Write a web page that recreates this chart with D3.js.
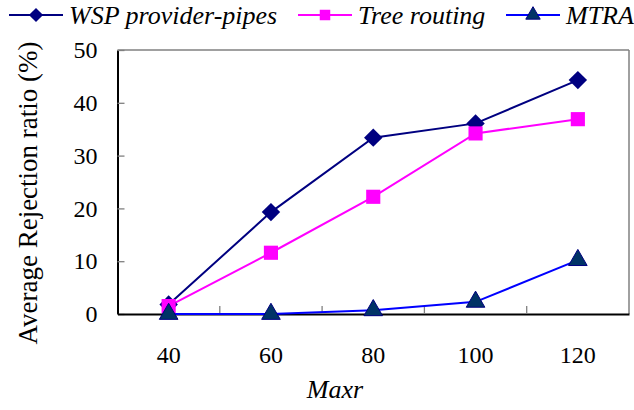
<!DOCTYPE html>
<html><head><meta charset="utf-8">
<script src="https://cdn.jsdelivr.net/npm/d3@7"></script>
<style>body{margin:0;background:#fff}svg{display:block}text{font-family:'Liberation Serif','Times New Roman',serif}</style>
</head><body>
<svg id="c" width="634" height="410"></svg>
<script>
const categories = ["40","60","80","100","120"];
const wspValues = [1.8, 19.3, 33.4, 36.1, 44.3];
const treeValues = [1.5, 11.6, 22.2, 34.2, 36.9];
const mtraValues = [0, 0, 0.7, 2.3, 10.2];
const yTicks = [0, 10, 20, 30, 40, 50];
const seriesNames = ["WSP provider-pipes", "Tree routing", "MTRA"];

const svg = d3.select("#c");
const L = 117.5, R = 629, T = 50, B = 314;
const x = d3.scaleBand().domain(categories).range([L, R]);
const y = d3.scaleLinear().domain([0, 50]).range([B, T]);

// frame (top/right grey)
svg.append("line").attr("x1",L).attr("x2",R).attr("y1",T).attr("y2",T).attr("stroke","#808080").attr("stroke-width",1.5);
svg.append("line").attr("x1",R).attr("x2",R).attr("y1",T).attr("y2",B).attr("stroke","#808080").attr("stroke-width",1.5);

// y axis
const ya = svg.append("g").attr("transform",`translate(${L},0)`)
  .call(d3.axisLeft(y).tickValues(yTicks).tickSize(-7).tickPadding(20).tickSizeOuter(0));
ya.select(".domain").attr("stroke","#000").attr("stroke-width",2);
ya.selectAll(".tick line").attr("stroke","#808080").attr("stroke-width",1.3);
ya.selectAll(".tick text").style("font-family","'Liberation Serif'").style("font-size","24px").attr("fill","#000");

// x axis
const xa = svg.append("g").attr("transform",`translate(0,${B})`)
  .call(d3.axisBottom(x).tickSize(0).tickPadding(32).tickSizeOuter(0));
xa.select(".domain").attr("stroke","#000").attr("stroke-width",2);
xa.selectAll(".tick text").style("font-family","'Liberation Serif'").style("font-size","24px").attr("fill","#000");
// category boundary ticks (inside)
svg.append("g").selectAll("line").data(categories.slice(1)).join("line")
  .attr("x1",d=>x(d)).attr("x2",d=>x(d)).attr("y1",B).attr("y2",B-8)
  .attr("stroke","#808080").attr("stroke-width",1.3);

// axis titles
svg.append("text").attr("x",335).attr("y",398).attr("text-anchor","middle")
  .style("font-family","'Liberation Serif'").style("font-style","italic").style("font-size","26px").text("Maxr");
svg.append("text").attr("transform","translate(37,193) rotate(-90)").attr("text-anchor","middle")
  .style("font-family","'Liberation Serif'").style("font-size","27px").text("Average Rejection ratio (%)");

const cx = d => x(d) + x.bandwidth()/2;
const line = d3.line().x((d,i)=>cx(categories[i])).y(d=>y(d));

const series = [
  {name:seriesNames[0], vals:wspValues, stroke:"#000080", fill:"#000080", shape:d3.symbolSquare, size:170, lsize:100, rot:45, outline:"none"},
  {name:seriesNames[1], vals:treeValues, stroke:"#FF00FF", fill:"#FF00FF", shape:d3.symbolSquare, size:200, lsize:110, rot:0, outline:"none"},
  {name:seriesNames[2], vals:mtraValues, stroke:"#0000FF", fill:"#003366", shape:d3.symbolTriangle, size:150, lsize:90, rot:0, outline:"#000080"}
];

series.forEach(s=>{
  svg.append("path").datum(s.vals).attr("d",line).attr("fill","none").attr("stroke",s.stroke).attr("stroke-width",2);
});
series.forEach(s=>{
  svg.append("g").selectAll("path").data(s.vals).join("path")
    .attr("d",d3.symbol().type(s.shape).size(s.size))
    .attr("transform",(d,i)=>`translate(${cx(categories[i])},${y(d)}) rotate(${s.rot})`)
    .attr("fill",s.fill).attr("stroke",s.outline).attr("stroke-width",1);
});

// legend
const legX = [9, 298, 506];
series.forEach((s,i)=>{
  const g = svg.append("g").attr("transform",`translate(${legX[i]},15)`);
  g.append("line").attr("x1",0).attr("x2",54).attr("y1",0).attr("y2",0).attr("stroke",s.stroke).attr("stroke-width",2);
  g.append("path").attr("d",d3.symbol().type(s.shape).size(s.lsize)).attr("transform",`translate(27,0) rotate(${s.rot})`)
    .attr("fill",s.fill).attr("stroke",s.outline);
  g.append("text").attr("x",60).attr("y",9)
    .style("font-family","'Liberation Serif'").style("font-style","italic").style("font-size","26px").text(s.name);
});
</script>
</body></html>
